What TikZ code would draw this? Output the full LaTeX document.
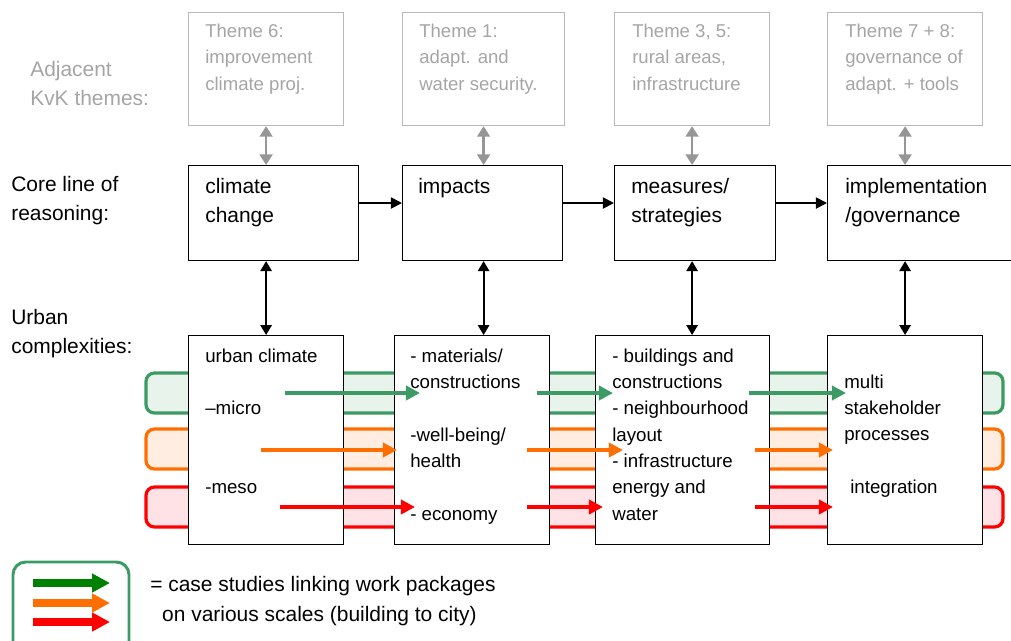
\documentclass[tikz,border=0pt]{standalone}
\usepackage{fontspec}
\setmainfont{Liberation Sans}
\usetikzlibrary{positioning, arrows.meta}

\definecolor{kvkgrey}{RGB}{165,165,165}
\definecolor{kvkline}{RGB}{185,185,185}
\definecolor{arrowgrey}{RGB}{150,150,150}
\definecolor{bandgreen}{RGB}{60,155,100}
\definecolor{fillgreen}{RGB}{232,243,236}
\definecolor{bandorange}{RGB}{255,110,0}
\definecolor{fillorange}{RGB}{255,237,226}
\definecolor{bandred}{RGB}{255,0,0}
\definecolor{fillred}{RGB}{255,226,230}
\definecolor{legendgreen}{RGB}{0,128,0}

\tikzset{
    themebox/.style={draw=kvkline, line width=0.8pt, inner sep=0pt, anchor=north west, minimum height=2.825cm},
    corebox/.style={draw=black, line width=0.8pt, inner sep=0pt, anchor=north west, fill=white, minimum height=2.375cm},
    urbbox/.style={draw=black, line width=0.8pt, inner sep=0pt, anchor=north west, fill=white, minimum height=5.225cm},
    % text nodes sit on the baseline of their last line
    themetext/.style={inner sep=0pt, anchor=base west, align=left, text=kvkgrey, font=\fontsize{13.2}{18.5}\selectfont},
    coretext/.style={inner sep=0pt, anchor=base west, align=left, font=\fontsize{14.9}{20.6}\selectfont},
    urbtext/.style={inner sep=0pt, anchor=base west, align=left, font=\fontsize{13.3}{18.7}\selectfont},
    sidetext/.style={inner sep=0pt, anchor=base west, align=left, font=\fontsize{14.9}{20.3}\selectfont},
    greyarrow/.style={draw=arrowgrey, line width=1.9pt, {Triangle[length=7.5pt, width=9pt]}-{Triangle[length=7.5pt, width=9pt]}},
    blackarrow/.style={draw=black, line width=1.3pt, {Triangle[length=7pt, width=8pt]}-{Triangle[length=7pt, width=8pt]}},
    corearrow/.style={draw=black, line width=1.3pt, -{Triangle[length=8pt, width=8pt]}},
    bandarrow/.style={line width=2.6pt, -{Triangle[length=10pt, width=10pt]}},
    legendarrow/.style={line width=5pt, -{Triangle[length=12.8pt, width=12.8pt]}}
}

\begin{document}
\begin{tikzpicture}[x=0.025cm, y=-0.025cm]
    \useasboundingbox (0,0) rectangle (1011,640);
    \clip (0,0) rectangle (1011,640);

    % coloured bands (case studies)
    \foreach \c/\ya/\yb in {green/373/413, orange/429/469, red/487/527}
    {
        \draw[line width=2.3pt, draw=band\c, fill=fill\c, rounded corners=6pt] (146,\ya) rectangle (1003,\yb);
    }

    % adjacent themes
    \node[themebox, minimum width=3.875cm] (th1) at (188,12) {};
    \node[themebox, minimum width=4.05cm] (th2) at (402,12) {};
    \node[themebox, minimum width=3.875cm] (th3) at (614,12) {};
    \node[themebox, minimum width=3.875cm] (th4) at (827,12) {};
    \node[themetext] (th1t) at (205,90) {Theme 6:\\improvement\\climate proj.};
    \node[themetext] (th2t) at (419,90) {Theme 1:\\adapt. and\\water security.};
    \node[themetext] (th3t) at (632,90) {Theme 3, 5:\\rural areas,\\infrastructure};
    \node[themetext] (th4t) at (845,90) {Theme 7 + 8:\\governance of\\adapt. + tools};

    % core line of reasoning
    \node[corebox, minimum width=4.25cm] (core1) at (188,165) {};
    \node[corebox, minimum width=4.0cm] (core2) at (402,165) {};
    \node[corebox, minimum width=4.025cm] (core3) at (614,165) {};
    \node[corebox, minimum width=4.9cm] (core4) at (827,165) {};
    \node[coretext] (core1t) at (205,222) {climate\\change};
    \node[coretext] (core2t) at (418,193) {impacts};
    \node[coretext] (core3t) at (631,222) {measures/\\strategies};
    \node[coretext] (core4t) at (845,222) {implementation\\/governance};

    % urban complexities
    \node[urbbox, minimum width=3.875cm] (urb1) at (188,335) {};
    \node[urbbox, minimum width=3.875cm] (urb2) at (394,335) {};
    \node[urbbox, minimum width=4.35cm] (urb3) at (595,335) {};
    \node[urbbox, minimum width=3.875cm] (urb4) at (827,335) {};
    \node[urbtext] (urb1t) at (205,493.5) {urban climate\\\mbox{}\\--micro\\\mbox{}\\\mbox{}\\-meso};
    \node[urbtext] (urb2t) at (410,520) {- materials/\\constructions\\\mbox{}\\-well-being/\\health\\\mbox{}\\- economy};
    \node[urbtext] (urb3t) at (612,520) {- buildings and\\constructions\\- neighbourhood\\layout\\- infrastructure\\energy and\\water};
    \node[urbtext] (urb4t) at (844,493.5) {multi\\stakeholder\\processes\\\mbox{}\\\hspace{4.25pt}integration};

    % row labels
    \node[sidetext, text=kvkgrey] (lab1) at (30,105.5) {Adjacent\\KvK themes:};
    \node[sidetext] (lab2) at (11,220.5) {Core line of\\reasoning:};
    \node[sidetext] (lab3) at (11,353.5) {Urban\\complexities:};

    % links between the rows
    \foreach \i in {1,2,3,4}
    {
        \draw[greyarrow] (th\i.south) -- (th\i.south |- core\i.north);
        \draw[blackarrow] (th\i.south |- core\i.south) -- (th\i.south |- urb\i.north);
    }
    \draw[corearrow] (core1.east |- 0,203) -- (core2.west |- 0,203);
    \draw[corearrow] (core2.east |- 0,203) -- (core3.west |- 0,203);
    \draw[corearrow] (core3.east |- 0,203) -- (core4.west |- 0,203);

    % case study arrows through the bands
    \foreach \c/\yy/\xa/\xb/\xc/\xd/\xe/\xf in {green/393/285/420/537/613/749/846, orange/450/261/397/527/623/755/833, red/507/280/415/527/603/755/833}
    {
        \coordinate (\c1s) at (\xa,\yy);
        \coordinate (\c1e) at (\xb,\yy);
        \coordinate (\c2s) at (\xc,\yy);
        \coordinate (\c2e) at (\xd,\yy);
        \coordinate (\c3s) at (\xe,\yy);
        \coordinate (\c3e) at (\xf,\yy);
        \draw[bandarrow, band\c] (\c1s) -- (\c1e);
        \draw[bandarrow, band\c] (\c2s) -- (\c2e);
        \draw[bandarrow, band\c] (\c3s) -- (\c3e);
    }

    % legend
    \draw[line width=2.1pt, draw=bandgreen, rounded corners=9pt] (13,562) rectangle (129,660);
    \coordinate (lg1s) at (33,583);
    \coordinate (lg1e) at (110,583);
    \coordinate (lg2s) at (33,603);
    \coordinate (lg2e) at (110,603);
    \coordinate (lg3s) at (33,622);
    \coordinate (lg3e) at (110,622);
    \draw[legendarrow, legendgreen] (lg1s) -- (lg1e);
    \draw[legendarrow, bandorange] (lg2s) -- (lg2e);
    \draw[legendarrow, bandred] (lg3s) -- (lg3e);
    \node[sidetext, font=\fontsize{14.9}{21.3}\selectfont] (legt) at (150,621) {= case studies linking work packages\\\hspace{8.5pt}on various scales (building to city)};
\end{tikzpicture}
\end{document}
